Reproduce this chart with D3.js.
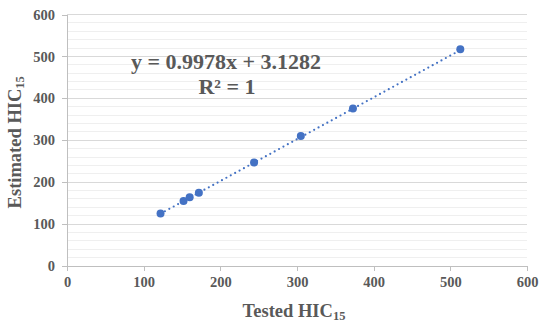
<!DOCTYPE html>
<html>
<head>
<meta charset="utf-8">
<script src="https://cdn.jsdelivr.net/npm/d3@7"></script>
<style>
  html, body { margin: 0; padding: 0; background: #fff; }
  svg { display: block; font-family: "Liberation Serif", "Times New Roman", serif; }
</style>
</head>
<body>
<svg id="chart" width="541" height="324"></svg>
<script>
// ---- data ----
const testedHIC = [122, 152, 160, 172, 244, 305, 373, 513];
const estimatedHIC = [125, 155, 164, 175, 247, 310, 376, 517];
const xTicks = [0, 100, 200, 300, 400, 500, 600];
const yTicks = [0, 100, 200, 300, 400, 500, 600];
const yMinorTicks = d3.range(0, 601, 20);
const slope = 0.9978;
const intercept = 3.1282;
const equationLabel = "y = 0.9978x + 3.1282";
const r2Label = "R² = 1";

// ---- layout ----
const svg = d3.select("#chart");
const mLeft = 67, mRight = 527, mTop = 14.5, mBottom = 266;
const x = d3.scaleLinear().domain([0, 600]).range([mLeft, mRight]);
const y = d3.scaleLinear().domain([0, 600]).range([mBottom, mTop]);
const textColor = "#595959";

// minor gridlines
svg.append("g").selectAll("line").data(yMinorTicks.filter(v => v % 100 !== 0)).join("line")
  .attr("x1", mLeft).attr("x2", mRight)
  .attr("y1", d => y(d)).attr("y2", d => y(d))
  .attr("stroke", "#efefef").attr("stroke-width", 1).attr("shape-rendering", "crispEdges");
// major gridlines
svg.append("g").selectAll("line").data(yTicks.filter(v => v !== 0)).join("line")
  .attr("x1", mLeft).attr("x2", mRight)
  .attr("y1", d => y(d)).attr("y2", d => y(d))
  .attr("stroke", "#d9d9d9").attr("stroke-width", 1).attr("shape-rendering", "crispEdges");

// axes
const xAxis = d3.axisBottom(x).tickValues(xTicks).tickSizeInner(5).tickSizeOuter(0).tickPadding(6);
const yAxis = d3.axisLeft(y).tickValues(yTicks).tickSizeInner(5).tickSizeOuter(0).tickPadding(7);

const gx = svg.append("g").attr("transform", `translate(0,${mBottom})`).call(xAxis);
const gy = svg.append("g").attr("transform", `translate(${mLeft},0)`).call(yAxis);
[gx, gy].forEach(g => {
  g.select(".domain").attr("stroke", "#bfbfbf").attr("shape-rendering", "crispEdges");
  g.selectAll(".tick line").attr("stroke", "#bfbfbf").attr("shape-rendering", "crispEdges");
  g.selectAll(".tick text")
    .attr("fill", textColor)
    .style("font-family", '"Liberation Serif", "Times New Roman", serif')
    .style("font-size", "14.5px").style("font-weight", "bold");
});

// trendline (dotted)
const xMin = d3.min(testedHIC), xMax = d3.max(testedHIC);
svg.append("line")
  .attr("x1", x(xMin)).attr("y1", y(slope * xMin + intercept))
  .attr("x2", x(xMax)).attr("y2", y(slope * xMax + intercept))
  .attr("stroke", "#4472C4").attr("stroke-width", 2.2)
  .attr("stroke-linecap", "round").attr("stroke-dasharray", "0,5");

// points
svg.append("g").selectAll("circle").data(testedHIC.map((d, i) => [d, estimatedHIC[i]])).join("circle")
  .attr("cx", d => x(d[0])).attr("cy", d => y(d[1])).attr("r", 4)
  .attr("fill", "#4472C4");

// equation
svg.append("text").attr("x", 226).attr("y", 69).attr("text-anchor", "middle")
  .attr("fill", textColor).style("font-size", "22px").style("font-weight", "bold")
  .text(equationLabel);
svg.append("text").attr("x", 227).attr("y", 94).attr("text-anchor", "middle")
  .attr("fill", textColor).style("font-size", "22px").style("font-weight", "bold")
  .text(r2Label);

// x axis title
const xt = svg.append("text").attr("x", 294).attr("y", 317).attr("text-anchor", "middle")
  .attr("fill", textColor).style("font-size", "18.5px").style("font-weight", "bold");
xt.append("tspan").text("Tested HIC");
xt.append("tspan").attr("dy", 3).style("font-size", "12.5px").text("15");

// y axis title
const yt = svg.append("text")
  .attr("transform", `translate(21,${(mTop + mBottom) / 2 + 2}) rotate(-90)`)
  .attr("text-anchor", "middle")
  .attr("fill", textColor).style("font-size", "18.5px").style("font-weight", "bold");
yt.append("tspan").text("Estimated HIC");
yt.append("tspan").attr("dy", 3).style("font-size", "12.5px").text("15");
</script>
</body>
</html>
